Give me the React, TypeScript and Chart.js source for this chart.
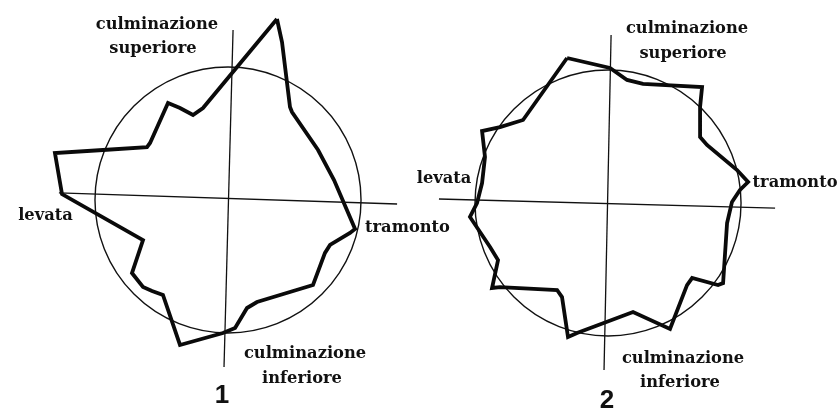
import { useEffect, useRef } from "react";
import { Chart, registerables } from "chart.js";

Chart.register(...registerables);

// ---- Data (units: reference circle radius = 100, origin at circle centre) ----
const RADIUS = 100;

// Diagram 1 polygon vertices
const poly1X = [36.8, 40.6, 46.6, 48.1, 67.7, 79.7, 95.5, 91.7, 76.7, 72.9, 63.9, 21.8, 14.3, 5.3, -3.8, -36.1, -48.9, -57.1, -63.9, -72.2, -63.9, -124.8, -130.1, -94.0, -60.9, -58.6, -45.1, -36.1, -26.3, -18.8];
const poly1Y = [136.1, 118.8, 69.9, 66.2, 37.6, 15.0, -21.8, -24.8, -33.8, -39.8, -63.9, -76.7, -81.2, -96.2, -100.0, -109.0, -71.4, -68.4, -65.4, -54.9, -30.1, 4.5, 35.3, 37.6, 39.8, 42.9, 72.9, 69.2, 63.9, 69.2];

// Diagram 2 polygon vertices
const poly2X = [-30.8, 1.5, 14.3, 26.3, 70.7, 69.2, 69.2, 74.4, 97.0, 105.3, 99.2, 93.2, 89.5, 86.5, 82.7, 63.2, 59.4, 46.6, 18.8, -23.3, -30.1, -34.6, -38.3, -81.2, -87.2, -82.7, -88.7, -103.8, -98.5, -94.7, -92.5, -94.7, -81.2, -63.9];
const poly2Y = [109.0, 101.5, 92.5, 89.5, 87.2, 72.2, 49.6, 43.6, 24.8, 15.8, 9.8, 0.8, -15.0, -60.2, -61.7, -56.4, -61.7, -94.7, -82.0, -97.7, -100.8, -70.7, -65.4, -63.2, -63.9, -42.9, -33.1, -10.5, 0.0, 15.0, 34.6, 54.1, 57.1, 62.4];

// Axis lines (horizontal, vertical) endpoints
const axes1X = [[-127.1, 127.1], [3.8, -3.0]];
const axes1Y = [[5.3, -3.0], [127.8, -125.6]];
const axes2X = [[-127.1, 125.6], [2.3, -3.0]];
const axes2Y = [[3.0, -3.8], [126.3, -125.6]];

// Labels
const labelText = ["culminazione", "superiore", "levata", "tramonto", "culminazione", "inferiore"];
const label1X = [-53.4, -56.4, -137.2, 103.0, 57.9, 55.6];
const label1Y = [128.3, 110.3, -15.0, -24.1, -118.8, -137.6];
const label1Align = ["center", "center", "center", "left", "center", "center"];
const label2X = [59.4, 56.4, -123.3, 140.6, 56.4, 54.1];
const label2Y = [127.8, 109.0, 15.0, 12.0, -120.3, -138.3];
const label2Align = ["center", "center", "center", "center", "center", "center"];

const figureNumbers = ["1", "2"];
const numberX = [-4.5, -0.75];
const numberY = [-152.6, -154.1];

// Scale windows for the two panels
const range1 = { xMin: -171.4, xMax: 174.4, yMin: -157.9, yMax: 150.4 };
const range2 = { xMin: -156.4, xMax: 174.4, yMin: -155.6, yMax: 152.6 };

const LABEL_FONT = "bold 16.3px 'DejaVu Serif'";
const NUMBER_FONT = "bold 26px 'Liberation Sans'";

const overlayPlugin = {
  id: "overlay",
  beforeDatasetsDraw(chart: any, _args: any, opts: any) {
    const { ctx, scales } = chart;
    const x = scales.x, y = scales.y;
    const cx = x.getPixelForValue(0);
    const cy = y.getPixelForValue(0);
    const r = x.getPixelForValue(opts.radius) - cx;
    ctx.save();
    ctx.beginPath();
    ctx.arc(cx, cy, r, 0, Math.PI * 2);
    ctx.lineWidth = 1.4;
    ctx.strokeStyle = "#111";
    ctx.stroke();
    ctx.restore();
  },
  afterDatasetsDraw(chart: any, _args: any, opts: any) {
    const { ctx, scales } = chart;
    const x = scales.x, y = scales.y;
    ctx.save();
    ctx.fillStyle = "#111";
    ctx.textBaseline = "alphabetic";
    ctx.font = LABEL_FONT;
    opts.texts.forEach((t: string, i: number) => {
      ctx.textAlign = opts.aligns[i];
      ctx.fillText(t, x.getPixelForValue(opts.xs[i]), y.getPixelForValue(opts.ys[i]));
    });
    ctx.font = NUMBER_FONT;
    ctx.textAlign = "center";
    ctx.fillText(opts.number, x.getPixelForValue(opts.numX), y.getPixelForValue(opts.numY));
    ctx.restore();
  },
};

function makeConfig(
  px: number[], py: number[], ax: number[][], ay: number[][],
  lx: number[], ly: number[], la: string[], num: string, nx: number, ny: number, range: any
): any {
  const poly = px.map((v, i) => ({ x: v, y: py[i] }));
  poly.push({ x: px[0], y: py[0] });
  const axisSets = ax.map((xs, k) => ({
    data: xs.map((v, i) => ({ x: v, y: ay[k][i] })),
    showLine: true,
    borderColor: "#111",
    borderWidth: 1.3,
    pointRadius: 0,
    fill: false,
  }));
  return {
    type: "scatter",
    data: {
      datasets: [
        ...axisSets,
        {
          data: poly,
          showLine: true,
          borderColor: "#0a0a0a",
          borderWidth: 3.8,
          borderJoinStyle: "miter",
          pointRadius: 0,
          fill: false,
          tension: 0,
        },
      ],
    },
    options: {
      animation: false,
      responsive: false,
      maintainAspectRatio: false,
      layout: { padding: 0 },
      events: [],
      scales: {
        x: { type: "linear", min: range.xMin, max: range.xMax, display: false },
        y: { type: "linear", min: range.yMin, max: range.yMax, display: false },
      },
      plugins: {
        legend: { display: false },
        tooltip: { enabled: false },
        overlay: {
          radius: RADIUS,
          texts: labelText,
          xs: lx,
          ys: ly,
          aligns: la,
          number: num,
          numX: nx,
          numY: ny,
        },
      },
    },
    plugins: [overlayPlugin],
  };
}

export default function App() {
  const ref1 = useRef<HTMLCanvasElement>(null);
  const ref2 = useRef<HTMLCanvasElement>(null);

  useEffect(() => {
    const c1 = new Chart(
      ref1.current as HTMLCanvasElement,
      makeConfig(poly1X, poly1Y, axes1X, axes1Y, label1X, label1Y, label1Align, figureNumbers[0], numberX[0], numberY[0], range1)
    );
    const c2 = new Chart(
      ref2.current as HTMLCanvasElement,
      makeConfig(poly2X, poly2Y, axes2X, axes2Y, label2X, label2Y, label2Align, figureNumbers[1], numberX[1], numberY[1], range2)
    );
    return () => {
      c1.destroy();
      c2.destroy();
    };
  }, []);

  return (
    <div style={{ position: "absolute", left: 0, top: 0, width: 840, height: 410, background: "#fff", overflow: "hidden" }}>
      <canvas ref={ref1} width={460} height={410} style={{ position: "absolute", left: 0, top: 0, width: 460, height: 410 }} />
      <canvas ref={ref2} width={440} height={410} style={{ position: "absolute", left: 400, top: 0, width: 440, height: 410 }} />
    </div>
  );
}
